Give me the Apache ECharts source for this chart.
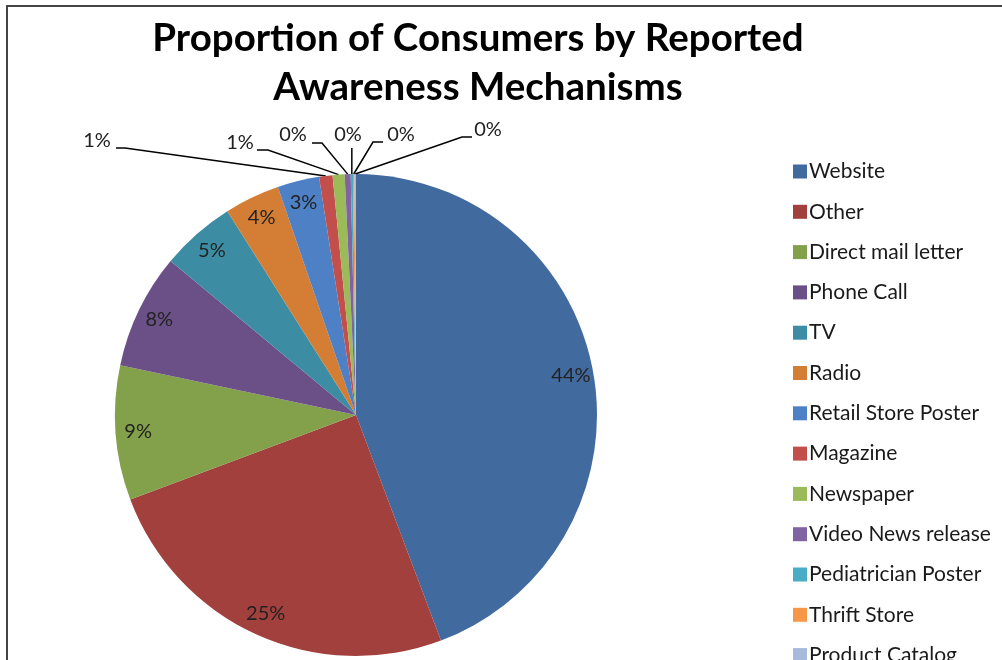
<!DOCTYPE html>
<html>
<head>
<meta charset="utf-8">
<title>Proportion of Consumers by Reported Awareness Mechanisms</title>
<script src="https://cdn.jsdelivr.net/npm/echarts@6/dist/echarts.min.js"></script>
<style>
	html, body { margin: 0; padding: 0; background: #fff; }
	#chart { width: 1002px; height: 660px; }
</style>
</head>
<body>
<div id="chart"></div>
<script>
// 数据
var mechanisms = ['Website', 'Other', 'Direct mail letter', 'Phone Call', 'TV', 'Radio',
	'Retail Store Poster', 'Magazine', 'Newspaper', 'Video News release',
	'Pediatrician Poster', 'Thrift Store', 'Product Catalog'];
var shares = [44.2, 25, 9, 7.7, 5, 3.7, 2.8, 0.9, 0.8, 0.4, 0.15, 0.1, 0.1];
var sliceColors = ['#416A9E', '#A2403D', '#83A04A', '#6A5087', '#3C8DA3', '#D47D35',
	'#4D80C4', '#C24F4C', '#9BBB59', '#8064A2', '#4BACC6', '#F79646', '#A8BADC'];

var FONT = 'Lato, "Open Sans", sans-serif';
var SMALL = 2; // 小于此值的扇区把标签放在外面

// 外部小标签的位置 (文字中心, 折线拐点, 折线末端)
var outerSpots = {
	7:  { x: 97,  y: 141, elbow: [125, 148], end: [116, 148] },
	8:  { x: 240, y: 143, elbow: [268, 150], end: [257, 150] },
	9:  { x: 293, y: 135, elbow: [322, 143], end: [312, 143] },
	10: { x: 348, y: 135, elbow: null,       end: [352, 148] },
	11: { x: 401, y: 135, elbow: [373, 142], end: [383, 142] },
	12: { x: 488, y: 130, elbow: [462, 137], end: [472, 137] }
};

function pct(p) { return Math.round(p.percent) + '%'; }

var mainData = [], ringData = [];
for (var i = 0; i < mechanisms.length; i++) {
	var small = shares[i] < SMALL;
	mainData.push({
		name: mechanisms[i],
		value: shares[i],
		itemStyle: { color: sliceColors[i] },
		label: { show: small },
		labelLine: { show: small }
	});
	ringData.push({
		name: mechanisms[i],
		value: shares[i],
		label: { show: !small }
	});
}

var myChart = echarts.init(document.getElementById('chart'));
var option = {
	animation: false,
	title: {
		text: 'Proportion of Consumers by Reported\nAwareness Mechanisms',
		left: 473,
		textAlign: 'center',
		top: 9,
		textStyle: { fontFamily: FONT, fontWeight: 'bold', fontSize: 38.5, lineHeight: 49, color: '#000' }
	},
	legend: {
		orient: 'vertical',
		left: 788,
		top: 156,
		height: 600,
		icon: 'rect',
		itemWidth: 14,
		itemHeight: 14,
		itemGap: 19.3,
		data: mechanisms,
		textStyle: { fontFamily: FONT, fontSize: 21, lineHeight: 21, color: '#1a1a1a', padding: [0, 0, 0, -3] }
	},
	graphic: [{
		type: 'polyline',
		shape: { points: [[7, 660], [7, 6], [1002, 6]] },
		style: { stroke: '#444', lineWidth: 2, fill: null },
		silent: true
	}],
	series: [{
		type: 'pie',
		center: [356, 415],
		radius: [0, 241],
		startAngle: 90,
		clockwise: true,
		avoidLabelOverlap: false,
		data: mainData,
		label: {
			position: 'outside',
			formatter: pct,
			fontFamily: FONT,
			fontSize: 20,
			color: '#222'
		},
		labelLine: { lineStyle: { color: '#000', width: 1.5 }, length: 10, length2: 10 },
		labelLayout: function (p) {
			var s = outerSpots[p.dataIndex];
			if (!s || !p.labelLinePoints) return {};
			var p0 = p.labelLinePoints[0];
			var pts = s.elbow ? [p0, s.elbow, s.end] : [p0, [p0[0], s.end[1] + 2], [p0[0], s.end[1]]];
			return {
				x: s.x, y: s.y, align: 'center', verticalAlign: 'middle',
				hideOverlap: false,
				labelLinePoints: pts
			};
		},
		emphasis: { disabled: true }
	}, {
		// 透明圆环，只用来放大扇区的内部标签
		type: 'pie',
		center: [356, 415],
		radius: [190, 241],
		startAngle: 90,
		clockwise: true,
		silent: true,
		data: ringData,
		itemStyle: { color: 'rgba(0,0,0,0)' },
		label: {
			position: 'inside',
			formatter: pct,
			fontFamily: FONT,
			fontSize: 20,
			color: '#222'
		},
		labelLine: { show: false },
		emphasis: { disabled: true }
	}]
};
myChart.setOption(option);
</script>
</body>
</html>
